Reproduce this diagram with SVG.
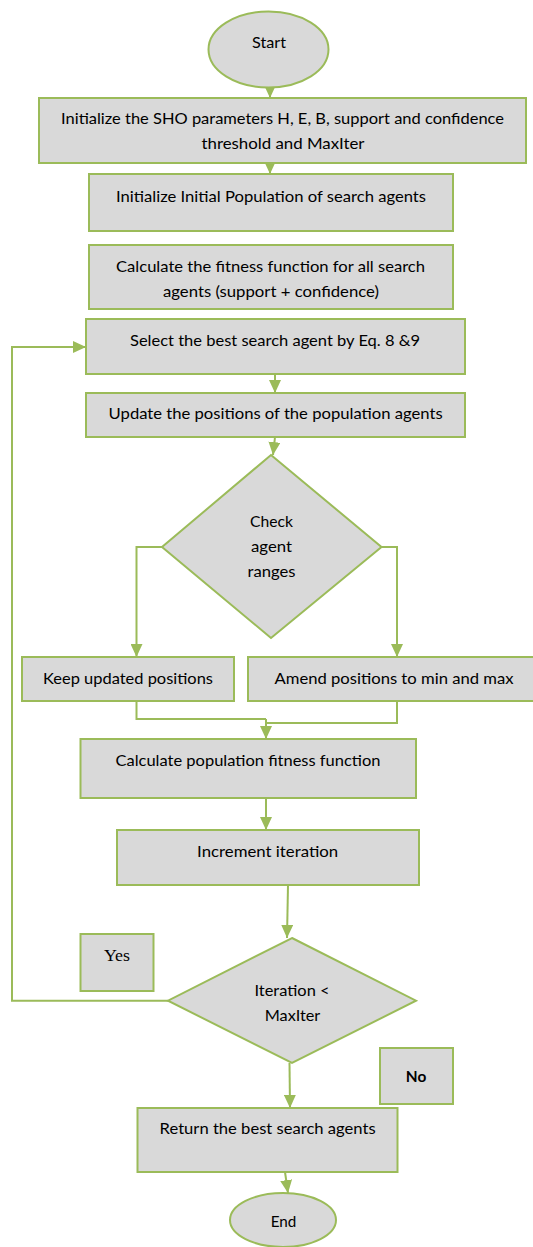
<svg xmlns="http://www.w3.org/2000/svg" width="533" height="1247" viewBox="0 0 533 1247">
<style>
.n{fill:#D9D9D9;stroke:#9BBB59;stroke-width:2}
.c{fill:none;stroke:#9BBB59;stroke-width:2}
.t{font-family:Lato,"Liberation Sans",sans-serif;font-size:15px;fill:#000;text-anchor:middle}
.s{font-family:"Liberation Serif",serif;font-size:17px;fill:#000;text-anchor:middle}
.b{font-weight:bold}
</style>
<defs>
<marker id="ah" markerUnits="userSpaceOnUse" markerWidth="13" markerHeight="12" refX="13" refY="6" orient="auto">
<path d="M0,0 L13,6 L0,12 z" fill="#9BBB59"/>
</marker>
</defs>
<rect width="533" height="1247" fill="#fff"/>
<g id="connectors">
<path class="c" d="M270,87 V98" marker-end="url(#ah)"/>
<path class="c" d="M270,163 V174" marker-end="url(#ah)"/>
<path class="c" d="M275,374 V393" marker-end="url(#ah)"/>
<path class="c" d="M275,437 L273,455" marker-end="url(#ah)"/>
<path class="c" d="M162,547 H136.5 V657" marker-end="url(#ah)"/>
<path class="c" d="M381.5,547 H397 V657" marker-end="url(#ah)"/>
<path class="c" d="M136.5,701 V719 H266"/>
<path class="c" d="M397,701 V723 H266"/>
<path class="c" d="M266,719 V739" marker-end="url(#ah)"/>
<path class="c" d="M266,798 V830" marker-end="url(#ah)"/>
<path class="c" d="M288,885 L287,938" marker-end="url(#ah)"/>
<path class="c" d="M289.5,1063 L290,1108" marker-end="url(#ah)"/>
<path class="c" d="M285,1172 L288,1193" marker-end="url(#ah)"/>
<path class="c" d="M168,1000.7 H12 V347 H86" marker-end="url(#ah)"/>
</g>
<g id="start">
<ellipse class="n" cx="268.5" cy="49.5" rx="60" ry="38"/>
<text class="t" x="269" y="48" textLength="34" lengthAdjust="spacingAndGlyphs">Start</text>
</g>
<g id="init-params">
<rect class="n" x="39" y="98" width="487" height="65"/>
<text class="t" x="282.5" y="124" textLength="443" lengthAdjust="spacingAndGlyphs">Initialize the SHO parameters H, E, B, support and confidence</text>
<text class="t" x="283" y="149" textLength="163" lengthAdjust="spacingAndGlyphs">threshold and MaxIter</text>
</g>
<g id="init-pop">
<rect class="n" x="89" y="174" width="364" height="57"/>
<text class="t" x="271" y="201.5" textLength="310" lengthAdjust="spacingAndGlyphs">Initialize Initial Population of search agents</text>
</g>
<g id="calc-fitness">
<rect class="n" x="89" y="245" width="364" height="64"/>
<text class="t" x="270.5" y="272" textLength="309" lengthAdjust="spacingAndGlyphs">Calculate the fitness function for all search</text>
<text class="t" x="271" y="297" textLength="216" lengthAdjust="spacingAndGlyphs">agents (support + confidence)</text>
</g>
<g id="select-best">
<rect class="n" x="86" y="319" width="379" height="55"/>
<text class="t" x="275" y="346" textLength="290" lengthAdjust="spacingAndGlyphs">Select the best search agent by Eq. 8 &amp;9</text>
</g>
<g id="update-pos">
<rect class="n" x="86" y="393" width="379" height="44"/>
<text class="t" x="275.6" y="419" textLength="334" lengthAdjust="spacingAndGlyphs">Update the positions of the population agents</text>
</g>
<g id="check-ranges">
<polygon class="n" points="271,455 381.5,547 271,638 162,547"/>
<text class="t" x="271.5" y="527" textLength="43" lengthAdjust="spacingAndGlyphs">Check</text>
<text class="t" x="271.5" y="552" textLength="41" lengthAdjust="spacingAndGlyphs">agent</text>
<text class="t" x="271.5" y="577" textLength="48" lengthAdjust="spacingAndGlyphs">ranges</text>
</g>
<g id="keep">
<rect class="n" x="22" y="657" width="212" height="44"/>
<text class="t" x="128" y="684" textLength="170" lengthAdjust="spacingAndGlyphs">Keep updated positions</text>
</g>
<g id="amend">
<rect class="n" x="248" y="657" width="290" height="44"/>
<text class="t" x="394" y="684" textLength="239" lengthAdjust="spacingAndGlyphs">Amend positions to min and max</text>
</g>
<g id="calc-pop">
<rect class="n" x="80.5" y="739" width="335.5" height="59"/>
<text class="t" x="248" y="765.7" textLength="265" lengthAdjust="spacingAndGlyphs">Calculate population fitness function</text>
</g>
<g id="increment">
<rect class="n" x="117" y="830" width="302" height="55"/>
<text class="t" x="267.6" y="856.7" textLength="141" lengthAdjust="spacingAndGlyphs">Increment iteration</text>
</g>
<g id="yes">
<rect class="n" x="80.5" y="934" width="73" height="57"/>
<text class="s" x="117" y="960.7" textLength="26" lengthAdjust="spacingAndGlyphs">Yes</text>
</g>
<g id="iter-check">
<polygon class="n" points="292,938 416,1000.7 292,1063 168,1000.7"/>
<text class="t" x="292" y="996" textLength="75" lengthAdjust="spacingAndGlyphs">Iteration &lt;</text>
<text class="t" x="292.5" y="1020.7" textLength="55.6" lengthAdjust="spacingAndGlyphs">MaxIter</text>
</g>
<g id="no">
<rect class="n" x="380" y="1048" width="73" height="56"/>
<text class="t b" x="416" y="1081.7" textLength="20.5" lengthAdjust="spacingAndGlyphs">No</text>
</g>
<g id="return">
<rect class="n" x="137.5" y="1108" width="260" height="64"/>
<text class="t" x="267.6" y="1134" textLength="216" lengthAdjust="spacingAndGlyphs">Return the best search agents</text>
</g>
<g id="end">
<ellipse class="n" cx="283" cy="1220" rx="53" ry="27"/>
<text class="t" x="283.5" y="1226.7" textLength="25.6" lengthAdjust="spacingAndGlyphs">End</text>
</g>
</svg>
